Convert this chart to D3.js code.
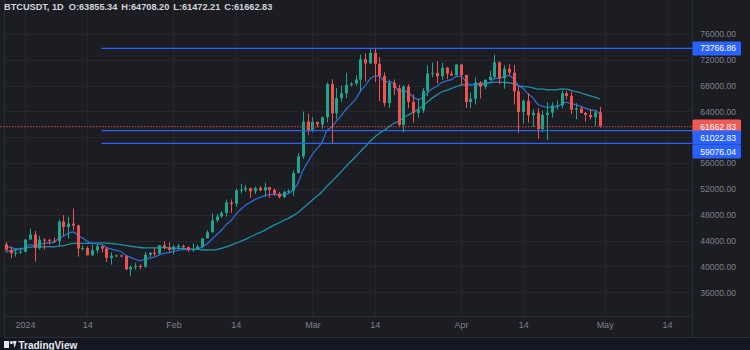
<!DOCTYPE html>
<html>
<head>
<meta charset="utf-8">
<script src="https://cdn.jsdelivr.net/npm/d3@7"></script>
<style>
  html, body { margin: 0; padding: 0; background: #131722; }
  svg { display: block; }
</style>
</head>
<body>
<svg id="chart" width="750" height="350"></svg>
<script>
// ---- data -------------------------------------------------------------
const symbolTitle = "BTCUSDT, 1D";
const ohlcKeys = ["O", "H", "L", "C"];
const ohlcValues = [63855.34, 64708.20, 61472.21, 61662.83];

const dates = [
  "2023-12-28","2023-12-29","2023-12-30","2023-12-31",
  "2024-01-01","2024-01-02","2024-01-03","2024-01-04","2024-01-05","2024-01-06","2024-01-07","2024-01-08","2024-01-09","2024-01-10",
  "2024-01-11","2024-01-12","2024-01-13","2024-01-14","2024-01-15","2024-01-16","2024-01-17","2024-01-18","2024-01-19","2024-01-20",
  "2024-01-21","2024-01-22","2024-01-23","2024-01-24","2024-01-25","2024-01-26","2024-01-27","2024-01-28","2024-01-29","2024-01-30","2024-01-31",
  "2024-02-01","2024-02-02","2024-02-03","2024-02-04","2024-02-05","2024-02-06","2024-02-07","2024-02-08","2024-02-09","2024-02-10",
  "2024-02-11","2024-02-12","2024-02-13","2024-02-14","2024-02-15","2024-02-16","2024-02-17","2024-02-18","2024-02-19","2024-02-20",
  "2024-02-21","2024-02-22","2024-02-23","2024-02-24","2024-02-25","2024-02-26","2024-02-27","2024-02-28","2024-02-29",
  "2024-03-01","2024-03-02","2024-03-03","2024-03-04","2024-03-05","2024-03-06","2024-03-07","2024-03-08","2024-03-09","2024-03-10",
  "2024-03-11","2024-03-12","2024-03-13","2024-03-14","2024-03-15","2024-03-16","2024-03-17","2024-03-18","2024-03-19","2024-03-20",
  "2024-03-21","2024-03-22","2024-03-23","2024-03-24","2024-03-25","2024-03-26","2024-03-27","2024-03-28","2024-03-29","2024-03-30","2024-03-31",
  "2024-04-01","2024-04-02","2024-04-03","2024-04-04","2024-04-05","2024-04-06","2024-04-07","2024-04-08","2024-04-09","2024-04-10",
  "2024-04-11","2024-04-12","2024-04-13","2024-04-14","2024-04-15","2024-04-16","2024-04-17","2024-04-18","2024-04-19","2024-04-20",
  "2024-04-21","2024-04-22","2024-04-23","2024-04-24","2024-04-25","2024-04-26","2024-04-27","2024-04-28","2024-04-29","2024-04-30"
];

const opens = [
  43428,42563,42066,42140,
  42283,44179,44946,42845,44151,44145,43968,43929,46951,46110,
  46633,46339,42782,42847,41732,42511,43137,42776,41327,41659,
  41696,41580,39568,39897,40084,39961,41823,42120,42031,43302,42941,
  42580,43083,43185,42993,42583,42659,43084,44339,45293,47132,
  47751,48299,49917,49699,51795,51880,52124,51642,52137,51774,
  52258,51849,51288,50744,51568,51728,54476,57037,62432,
  61130,62387,61987,63113,68245,63724,66074,66823,68124,68314,
  68955,72078,71452,73072,71388,69499,65300,68393,67609,61937,
  67840,65501,63797,64209,67211,69880,69988,69469,70780,69850,69582,
  71280,69649,65463,65963,68488,67820,68896,69360,71620,69146,
  70631,70006,67116,63924,65661,63419,63793,61277,63470,63818,
  64940,64941,66819,66414,64289,64498,63770,63461,63118,63855.34
];
const highs = [
  43787,43111,42612,42899,
  44184,45879,45500,44729,44352,44214,44495,47248,47972,47695,
  48969,46498,43257,43079,43400,43578,43198,42930,42196,41872,
  41881,41689,40129,40555,40300,42246,42200,42842,43305,43882,43745,
  43285,43494,43381,43119,43544,43399,44389,45614,48200,48170,
  48592,50334,50368,52043,52816,52572,52191,52357,52488,52985,
  52366,52065,51548,51698,51950,54910,57588,64000,63676,
  63114,62433,63231,68499,69000,67637,67985,69990,68541,69601,
  72800,73000,73650,73777,72419,70043,68904,68957,68124,68100,
  68240,66650,65999,67628,71150,71561,71769,71552,70916,70321,71366,
  71288,69674,66914,69291,68725,69000,70326,72797,71758,71172,
  71305,71227,67931,65840,66867,64365,64499,64125,65450,65419,
  65700,67233,67199,67075,65297,64837,63923,64370,64228,64708.20
];
const lows = [
  42300,41300,41520,41965,
  42180,44148,40750,42613,42632,43397,43662,43175,44748,44300,
  45606,41500,42436,41720,41718,42050,42200,40683,40280,41500,
  41419,39431,38555,39485,39550,39822,41394,41620,41804,42683,42276,
  41884,42565,42880,42222,42258,42574,42788,44331,45242,46800,
  47557,47710,48300,49225,51314,51566,50625,51200,51677,50760,
  50625,50940,50521,50585,51280,50901,54450,56691,60364,
  60777,61561,61320,62300,59005,62786,65551,66082,67861,68024,
  67194,68620,71334,68555,65600,64780,64534,66563,61555,60775,
  64529,62261,63000,63777,66386,69280,68359,68903,69009,69540,69562,
  68062,64550,64493,65064,66011,67447,68824,69043,68210,67518,
  69567,65086,60660,62134,62274,61600,59768,60775,59600,63090,
  64278,64500,65864,63589,62794,63749,62424,62781,61765,61472.21
];
const closes = [
  42563,42066,42140,42283,
  44179,44946,42845,44151,44145,43968,43929,46951,46110,46633,
  46339,42782,42847,41732,42511,43137,42776,41327,41659,41696,
  41580,39568,39897,40084,39961,41823,42120,42031,43302,42941,42580,
  43083,43185,42993,42583,42659,43084,44339,45293,47132,47751,
  48299,49917,49699,51795,51880,52124,51642,52137,51774,52258,
  51849,51288,50744,51568,51728,54476,57037,62432,61130,
  62387,61987,63113,68245,63724,66074,66823,68124,68314,68955,
  72078,71452,73072,71388,69499,65300,68393,67609,61937,67840,
  65501,63797,64209,67211,69880,69988,69469,70780,69850,69582,71280,
  69649,65463,65963,68488,67820,68896,69360,71620,69146,70631,
  70006,67116,63924,65661,63419,63793,61277,63470,63818,64940,
  64941,66819,66414,64289,64498,63770,63461,63118,63855.34,61662.83
];

// fast EMA (9) and slow SMA (30), thousands of USDT
const emaFastK = [
  43.15,42.93,42.77,42.67,
  42.97,43.37,43.27,43.44,43.59,43.66,43.72,44.36,44.71,45.10,
  45.34,44.83,44.43,43.89,43.62,43.52,43.37,42.96,42.70,42.50,
  42.32,41.77,41.40,41.13,40.90,41.08,41.29,41.44,41.81,42.04,42.15,
  42.33,42.50,42.60,42.60,42.61,42.71,43.03,43.49,44.21,44.92,
  45.60,46.46,47.11,48.05,48.81,49.48,49.91,50.36,50.64,50.96,
  51.14,51.17,51.08,51.18,51.29,51.93,52.95,54.85,56.10,
  57.36,58.29,59.25,61.05,61.59,62.48,63.35,64.31,65.11,65.88,
  67.12,67.98,69.00,69.48,69.48,68.65,68.59,68.40,67.11,67.25,
  66.90,66.28,65.87,66.14,66.88,67.51,67.90,68.48,68.75,68.92,69.39,
  69.44,68.64,68.11,68.18,68.11,68.27,68.49,69.11,69.12,69.42,
  69.54,69.05,68.03,67.55,66.73,66.14,65.17,64.83,64.63,64.69,
  64.74,65.16,65.41,65.19,65.05,64.79,64.53,64.24,64.17,63.67
];
const smaSlowK = [
  42.27,42.41,42.55,42.67,
  42.83,43.00,43.03,43.03,43.04,43.06,43.05,43.16,43.24,43.42,
  43.58,43.58,43.57,43.57,43.57,43.63,43.64,43.61,43.54,43.47,
  43.39,43.25,43.15,43.03,42.94,42.89,42.87,42.87,42.91,42.93,42.88,
  42.82,42.83,42.79,42.74,42.69,42.67,42.58,42.55,42.57,42.62,
  42.80,43.03,43.30,43.61,43.90,44.21,44.56,44.91,45.24,45.60,
  46.01,46.39,46.74,47.13,47.46,47.87,48.37,49.01,49.62,
  50.28,50.91,51.57,52.41,53.12,53.90,54.69,55.48,56.25,56.98,
  57.79,58.56,59.33,60.05,60.64,61.09,61.63,62.17,62.49,63.03,
  63.47,63.87,64.30,64.85,65.46,66.07,66.57,67.02,67.27,67.55,67.85,
  68.10,68.18,68.11,68.27,68.32,68.39,68.43,68.54,68.55,68.50,
  68.45,68.26,68.01,67.88,67.82,67.66,67.45,67.50,67.37,67.35,
  67.39,67.48,67.45,67.26,67.08,66.89,66.65,66.42,66.23,65.91
];

const levelPrices = [73766.86, 61022.83, 59076.04];
const levelStart = "2024-01-17";
const lastPrice = 61662.83;

const priceTicks = [36000, 40000, 44000, 48000, 52000, 56000, 60000, 64000, 68000, 72000, 76000];
const timeTicks = ["2024-01-01","2024-01-14","2024-02-01","2024-02-14","2024-03-01","2024-03-14","2024-04-01","2024-04-14","2024-05-01","2024-05-14"];
const timeTickLabels = ["2024","14","Feb","14","Mar","14","Apr","14","May","14"];
const brandName = "TradingView";

// ---- layout & style ----------------------------------------------------
const W = 750, H = 350;
const plot = { left: 4, right: 692, top: 0, bottom: 316 };
const axisBottom = 337;
const C = {
  bg: "#1c1d22", footer: "#131722", grid: "#25272d", border: "#2c2e35",
  text: "#7d808a", header: "#d1d4dc",
  up: "#22a48c", down: "#ef5350", lastLine: "#b13e3b",
  ema: "#2d6bd0", sma: "#1f90a3", level: "#2962ff", lastBox: "#f05a57"
};
const FONT = "'Liberation Sans', Arial, sans-serif";

const parse = d3.utcParse("%Y-%m-%d");
const bars = dates.map((d, i) => ({
  t: parse(d), o: opens[i], h: highs[i], l: lows[i], c: closes[i],
  ema: emaFastK[i] * 1000, sma: smaSlowK[i] * 1000
}));

const x = d3.scaleUtc()
  .domain([parse("2024-01-01"), parse("2024-05-14")])
  .range([25, 666.9]);
const y = d3.scaleLinear().domain([36000, 76000]).range([292.3, 34]);

const svg = d3.select("#chart").attr("viewBox", `0 0 ${W} ${H}`);

svg.append("rect").attr("width", W).attr("height", H).attr("fill", C.footer);
svg.append("rect").attr("width", W).attr("height", axisBottom).attr("fill", C.bg);

svg.append("clipPath").attr("id", "plotClip")
  .append("rect").attr("x", plot.left).attr("y", plot.top)
  .attr("width", plot.right - plot.left).attr("height", plot.bottom - plot.top);

// grid
const grid = svg.append("g").attr("shape-rendering", "crispEdges");
grid.selectAll(".hg").data(priceTicks).join("line")
  .attr("x1", plot.left).attr("x2", plot.right)
  .attr("y1", d => Math.round(y(d)) + 0.5).attr("y2", d => Math.round(y(d)) + 0.5)
  .attr("stroke", C.grid);
grid.selectAll(".vg").data(timeTicks).join("line")
  .attr("x1", d => Math.round(x(parse(d))) + 0.5).attr("x2", d => Math.round(x(parse(d))) + 0.5)
  .attr("y1", plot.top).attr("y2", plot.bottom)
  .attr("stroke", C.grid);

// panel borders
const borders = svg.append("g").attr("shape-rendering", "crispEdges").attr("stroke", C.border);
borders.append("line").attr("x1", plot.left + 0.5).attr("x2", plot.left + 0.5).attr("y1", 0).attr("y2", axisBottom);
borders.append("line").attr("x1", plot.right + 0.5).attr("x2", plot.right + 0.5).attr("y1", 0).attr("y2", axisBottom);
borders.append("line").attr("x1", plot.left).attr("x2", plot.right).attr("y1", plot.bottom + 0.5).attr("y2", plot.bottom + 0.5);
borders.append("line").attr("x1", plot.left).attr("x2", W).attr("y1", axisBottom + 0.5).attr("y2", axisBottom + 0.5);

const inner = svg.append("g").attr("clip-path", "url(#plotClip)");

// moving averages
const maLine = key => d3.line().x(d => x(d.t)).y(d => y(d[key])).curve(d3.curveMonotoneX);
inner.append("path").datum(bars).attr("d", maLine("sma"))
  .attr("fill", "none").attr("stroke", C.sma).attr("stroke-width", 1.3);
inner.append("path").datum(bars).attr("d", maLine("ema"))
  .attr("fill", "none").attr("stroke", C.ema).attr("stroke-width", 1.3);

// candles
const candle = inner.append("g").selectAll("g").data(bars).join("g")
  .attr("fill", d => d.c >= d.o ? C.up : C.down)
  .attr("stroke", d => d.c >= d.o ? C.up : C.down);
candle.append("line")
  .attr("x1", d => Math.round(x(d.t)) + 0.5).attr("x2", d => Math.round(x(d.t)) + 0.5)
  .attr("y1", d => y(d.h)).attr("y2", d => y(d.l)).attr("stroke-width", 1);
candle.append("rect")
  .attr("stroke", "none")
  .attr("x", d => Math.round(x(d.t)) - 1).attr("width", 3)
  .attr("y", d => y(Math.max(d.o, d.c)))
  .attr("height", d => Math.max(1, Math.abs(y(d.o) - y(d.c))));

// horizontal levels
svg.append("g").selectAll("line").data(levelPrices).join("line")
  .attr("x1", x(parse(levelStart))).attr("x2", plot.right)
  .attr("y1", d => y(d)).attr("y2", d => y(d))
  .attr("stroke", C.level).attr("stroke-width", 1.3);

// last price line (dotted)
svg.append("line")
  .attr("x1", 0).attr("x2", plot.right)
  .attr("y1", y(lastPrice)).attr("y2", y(lastPrice))
  .attr("stroke", C.lastLine).attr("stroke-width", 1.4).attr("stroke-dasharray", "1.5,1.5");

// price axis
const yAxis = d3.axisRight(y).tickValues(priceTicks).tickFormat(d3.format(".2f")).tickSize(0);
const yAx = svg.append("g").attr("transform", `translate(${plot.right},0)`).call(yAxis);
yAx.select(".domain").remove();
yAx.selectAll("text").attr("x", 44).attr("text-anchor", "end")
  .attr("fill", C.text).attr("font-family", FONT).attr("font-size", 8.6);

// time axis
const xAxis = d3.axisBottom(x).tickValues(timeTicks.map(parse))
  .tickFormat((d, i) => timeTickLabels[i]).tickSize(0);
const xAx = svg.append("g").attr("transform", `translate(0,${plot.bottom})`).call(xAxis);
xAx.select(".domain").remove();
xAx.selectAll("text").attr("y", 6).attr("fill", C.text)
  .attr("font-family", FONT).attr("font-size", 9);

// price tags on the axis
const tags = levelPrices.map(p => ({ p, fill: C.level, last: false }))
  .concat([{ p: lastPrice, fill: C.lastBox, last: true }])
  .sort((a, b) => y(a.p) - y(b.p));
const tagH = 14;
tags.forEach((t, i) => {
  const want = y(t.p) - tagH / 2;
  if (i === 0) { t.top = want; return; }
  const prev = tags[i - 1];
  const gap = prev.last ? 11 : tagH;
  t.top = Math.max(want, prev.top + gap);
});
const tagOrder = tags.slice().sort((a, b) => (b.last ? 1 : 0) - (a.last ? 1 : 0));
const tagG = svg.append("g").selectAll("g").data(tagOrder).join("g");
tagG.append("rect")
  .attr("x", plot.right + 0.5).attr("width", 48.5)
  .attr("y", d => d.top).attr("height", tagH).attr("rx", 1.5)
  .attr("fill", d => d.fill);
tagG.append("text")
  .attr("x", 736).attr("y", d => d.top + tagH / 2).attr("dy", "0.35em")
  .attr("text-anchor", "end").attr("fill", "#ffffff")
  .attr("font-family", FONT).attr("font-size", 8.6)
  .text(d => d3.format(".2f")(d.p));

// header legend
const head = svg.append("text").attr("x", 4).attr("y", 10)
  .attr("font-family", FONT).attr("font-size", 9.2).attr("font-weight", 600)
  .attr("fill", C.header);
head.append("tspan").text(symbolTitle);
ohlcKeys.forEach((k, i) => {
  head.append("tspan").attr("dx", i === 0 ? 5 : 4).text(`${k}:${d3.format(".2f")(ohlcValues[i])}`);
});

// brand mark along the bottom edge
const brand = svg.append("g").attr("fill", "#e6e8ee");
brand.append("rect").attr("x", 4).attr("y", 341).attr("width", 5).attr("height", 7);
brand.append("circle").attr("cx", 11.3).attr("cy", 342.6).attr("r", 1.5);
brand.append("path").attr("d", "M12.8 341 L16.6 341 L14.7 348 Z");
brand.append("text").attr("x", 18.5).attr("y", 348.6)
  .attr("font-family", FONT).attr("font-size", 10).attr("font-weight", 700)
  .text(brandName);
</script>
</body>
</html>
